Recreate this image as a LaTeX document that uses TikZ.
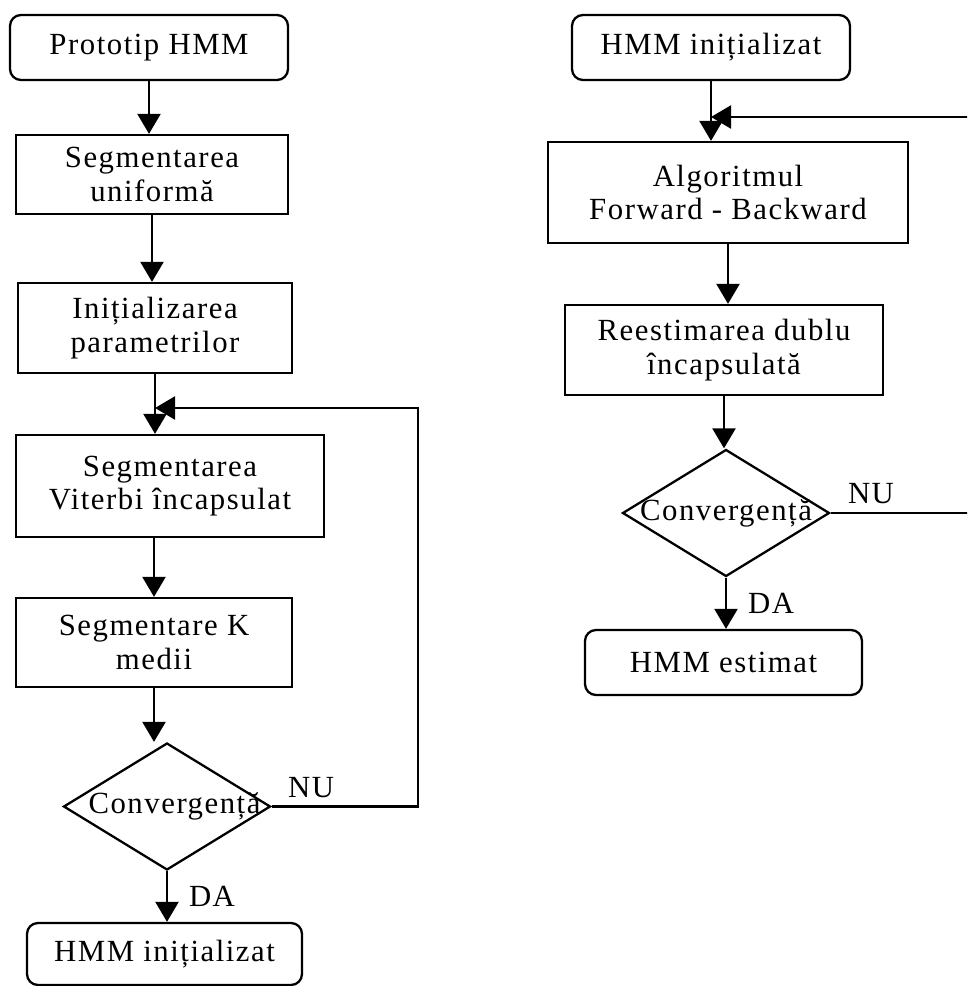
\documentclass[tikz,border=0pt]{standalone}
\usepackage{fontspec}
\setmainfont{Liberation Serif}[LetterSpace=5]
\usetikzlibrary{arrows.meta,shapes.geometric}

\begin{document}
\begin{tikzpicture}[line width=1.3pt,
	every node/.style={font=\fontsize{17.5}{19}\selectfont},
	proc/.style={draw,rectangle,align=center,inner sep=0pt},
	term/.style={proc,rounded corners=0.22cm},
	decision/.style={draw,diamond,inner sep=0pt,minimum width=4.14cm,minimum height=2.54cm},
	flow/.style={-{Triangle[width=0.46cm,length=0.4cm]}}]
	\useasboundingbox (0,0) rectangle (19.34,-19.72);
	\clip (0,0) rectangle (19.34,-19.72);

	% initializare
	\node[term,minimum width=5.56cm,minimum height=1.3cm] (proto) at (2.98,-0.95) {Prototip HMM};
	\node[proc,minimum width=5.44cm,minimum height=1.58cm] (unif) at (3.04,-3.49) {Segmentarea\\uniformă};
	\node[proc,minimum width=5.48cm,minimum height=1.8cm] (init) at (3.10,-6.56) {Inițializarea\\parametrilor};
	\node[proc,minimum width=6.16cm,minimum height=2.04cm] (viterbi) at (3.40,-9.72) {Segmentarea\\Viterbi încapsulat};
	\node[proc,minimum width=5.52cm,minimum height=1.78cm] (kmed) at (3.08,-12.85) {Segmentare K\\medii};
	\node[decision,label={[xshift=0.15cm]center:Convergență}] (conv1) at (3.34,-16.13) {};
	\node[term,minimum width=5.5cm,minimum height=1.24cm] (hmmA) at (3.29,-19.08) {HMM inițializat};

	\coordinate (m1) at (init.south |- 0,-8.16);
	\coordinate (loop1) at (8.36,-8.16);

	\draw[flow] (proto.south) -- (proto.south |- unif.north);
	\draw[flow] (unif.south) -- (unif.south |- init.north);
	\draw[flow] (init.south) -- (init.south |- viterbi.north);
	\draw[flow] (viterbi.south -| kmed.north) -- (kmed.north);
	\draw[flow] (kmed.south) -- (kmed.south |- conv1.north);
	\draw[flow] (conv1.south) -- node[midway,right=0.3cm]{DA} (conv1.south |- hmmA.north);
	\draw[flow] (conv1.east) -- node[pos=.27,above=1pt]{NU} (conv1.east -| loop1) -- (loop1) -- (m1);

	% reestimare
	\node[term,minimum width=5.56cm,minimum height=1.3cm] (hmmB) at (14.22,-0.95) {HMM inițializat};
	\node[proc,minimum width=7.2cm,minimum height=2.02cm] (fb) at (14.56,-3.85) {Algoritmul\\Forward - Backward};
	\node[proc,minimum width=6.36cm,minimum height=1.8cm] (reest) at (14.48,-7.0) {Reestimarea dublu\\încapsulată};
	\node[decision,label=center:Convergență] (conv2) at (14.52,-10.26) {};
	\node[term,minimum width=5.54cm,minimum height=1.3cm] (est) at (14.47,-13.25) {HMM estimat};

	\coordinate (m2) at (hmmB.south |- 0,-2.34);
	\coordinate (loop2) at (19.6,-2.34);

	\draw[flow] (hmmB.south) -- (hmmB.south |- fb.north);
	\draw[flow] (fb.south) -- (fb.south |- reest.north);
	\draw[flow] (reest.south) -- (reest.south |- conv2.north);
	\draw[flow] (conv2.south) -- node[midway,right=0.3cm]{DA} (conv2.south |- est.north);
	\draw[flow] (conv2.east) -- node[pos=.27,above=1pt]{NU} (conv2.east -| loop2) -- (loop2) -- (m2);
\end{tikzpicture}
\end{document}
